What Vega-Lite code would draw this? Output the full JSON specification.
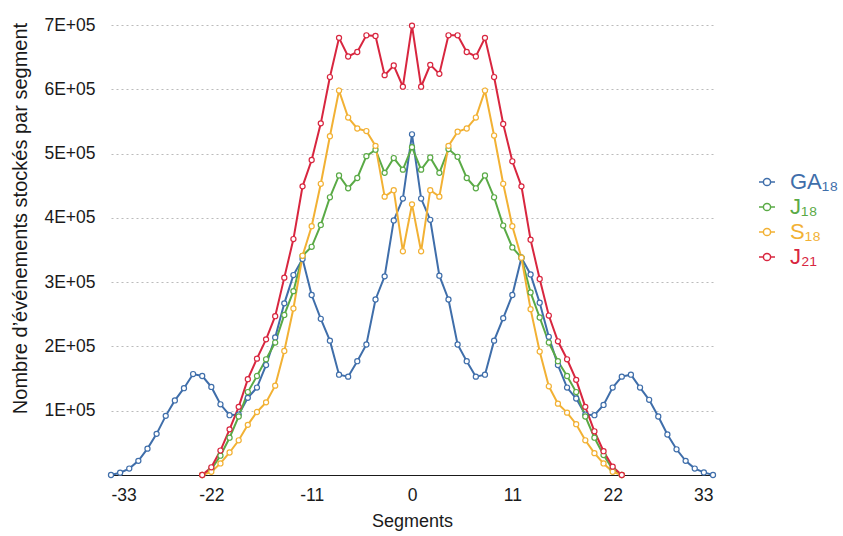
{
  "$schema": "https://vega.github.io/schema/vega-lite/v6.json",
  "width": 602,
  "height": 450,
  "autosize": "none",
  "padding": {"left": 111, "top": 25, "right": 130, "bottom": 61},
  "background": "white",
  "config": {
    "font": "Liberation Sans",
    "view": {"stroke": null}
  },
  "data": {
    "values": [
      {"s":"GA₁₈","x":-33,"y":0},{"s":"GA₁₈","x":-32,"y":3600},{"s":"GA₁₈","x":-31,"y":10000},{"s":"GA₁₈","x":-30,"y":22000},{"s":"GA₁₈","x":-29,"y":41000},{"s":"GA₁₈","x":-28,"y":64000},{"s":"GA₁₈","x":-27,"y":92000},{"s":"GA₁₈","x":-26,"y":116000},{"s":"GA₁₈","x":-25,"y":135000},{"s":"GA₁₈","x":-24,"y":157000},{"s":"GA₁₈","x":-23,"y":154000},{"s":"GA₁₈","x":-22,"y":137000},{"s":"GA₁₈","x":-21,"y":110000},{"s":"GA₁₈","x":-20,"y":93000},{"s":"GA₁₈","x":-19,"y":94000},{"s":"GA₁₈","x":-18,"y":120000},{"s":"GA₁₈","x":-17,"y":136000},{"s":"GA₁₈","x":-16,"y":171000},{"s":"GA₁₈","x":-15,"y":214000},{"s":"GA₁₈","x":-14,"y":267000},{"s":"GA₁₈","x":-13,"y":311000},{"s":"GA₁₈","x":-12,"y":336000},{"s":"GA₁₈","x":-11,"y":280000},{"s":"GA₁₈","x":-10,"y":243000},{"s":"GA₁₈","x":-9,"y":209000},{"s":"GA₁₈","x":-8,"y":156000},{"s":"GA₁₈","x":-7,"y":153000},{"s":"GA₁₈","x":-6,"y":177000},{"s":"GA₁₈","x":-5,"y":203000},{"s":"GA₁₈","x":-4,"y":273000},{"s":"GA₁₈","x":-3,"y":309000},{"s":"GA₁₈","x":-2,"y":396000},{"s":"GA₁₈","x":-1,"y":430000},{"s":"GA₁₈","x":0,"y":530000},{"s":"GA₁₈","x":1,"y":430000},{"s":"GA₁₈","x":2,"y":397000},{"s":"GA₁₈","x":3,"y":310000},{"s":"GA₁₈","x":4,"y":273000},{"s":"GA₁₈","x":5,"y":203000},{"s":"GA₁₈","x":6,"y":177000},{"s":"GA₁₈","x":7,"y":153000},{"s":"GA₁₈","x":8,"y":156000},{"s":"GA₁₈","x":9,"y":209000},{"s":"GA₁₈","x":10,"y":244000},{"s":"GA₁₈","x":11,"y":280000},{"s":"GA₁₈","x":12,"y":338000},{"s":"GA₁₈","x":13,"y":312000},{"s":"GA₁₈","x":14,"y":268000},{"s":"GA₁₈","x":15,"y":215000},{"s":"GA₁₈","x":16,"y":171000},{"s":"GA₁₈","x":17,"y":136000},{"s":"GA₁₈","x":18,"y":119000},{"s":"GA₁₈","x":19,"y":94000},{"s":"GA₁₈","x":20,"y":93000},{"s":"GA₁₈","x":21,"y":109000},{"s":"GA₁₈","x":22,"y":136000},{"s":"GA₁₈","x":23,"y":153000},{"s":"GA₁₈","x":24,"y":156000},{"s":"GA₁₈","x":25,"y":136000},{"s":"GA₁₈","x":26,"y":117000},{"s":"GA₁₈","x":27,"y":91000},{"s":"GA₁₈","x":28,"y":63000},{"s":"GA₁₈","x":29,"y":40000},{"s":"GA₁₈","x":30,"y":22000},{"s":"GA₁₈","x":31,"y":10000},{"s":"GA₁₈","x":32,"y":4000},{"s":"GA₁₈","x":33,"y":0},
      {"s":"J₁₈","x":-23,"y":0},{"s":"J₁₈","x":-22,"y":9000},{"s":"J₁₈","x":-21,"y":30000},{"s":"J₁₈","x":-20,"y":58000},{"s":"J₁₈","x":-19,"y":91000},{"s":"J₁₈","x":-18,"y":129000},{"s":"J₁₈","x":-17,"y":154000},{"s":"J₁₈","x":-16,"y":180000},{"s":"J₁₈","x":-15,"y":206000},{"s":"J₁₈","x":-14,"y":249000},{"s":"J₁₈","x":-13,"y":286000},{"s":"J₁₈","x":-12,"y":341000},{"s":"J₁₈","x":-11,"y":355000},{"s":"J₁₈","x":-10,"y":389000},{"s":"J₁₈","x":-9,"y":432000},{"s":"J₁₈","x":-8,"y":466000},{"s":"J₁₈","x":-7,"y":446000},{"s":"J₁₈","x":-6,"y":462000},{"s":"J₁₈","x":-5,"y":496000},{"s":"J₁₈","x":-4,"y":506000},{"s":"J₁₈","x":-3,"y":470000},{"s":"J₁₈","x":-2,"y":493000},{"s":"J₁₈","x":-1,"y":475000},{"s":"J₁₈","x":0,"y":510000},{"s":"J₁₈","x":1,"y":475000},{"s":"J₁₈","x":2,"y":494000},{"s":"J₁₈","x":3,"y":470000},{"s":"J₁₈","x":4,"y":507000},{"s":"J₁₈","x":5,"y":495000},{"s":"J₁₈","x":6,"y":462000},{"s":"J₁₈","x":7,"y":446000},{"s":"J₁₈","x":8,"y":466000},{"s":"J₁₈","x":9,"y":432000},{"s":"J₁₈","x":10,"y":388000},{"s":"J₁₈","x":11,"y":354000},{"s":"J₁₈","x":12,"y":338000},{"s":"J₁₈","x":13,"y":284000},{"s":"J₁₈","x":14,"y":245000},{"s":"J₁₈","x":15,"y":206000},{"s":"J₁₈","x":16,"y":177000},{"s":"J₁₈","x":17,"y":154000},{"s":"J₁₈","x":18,"y":129000},{"s":"J₁₈","x":19,"y":91000},{"s":"J₁₈","x":20,"y":58000},{"s":"J₁₈","x":21,"y":31000},{"s":"J₁₈","x":22,"y":9000},{"s":"J₁₈","x":23,"y":0},
      {"s":"S₁₈","x":-23,"y":0},{"s":"S₁₈","x":-22,"y":5000},{"s":"S₁₈","x":-21,"y":18000},{"s":"S₁₈","x":-20,"y":35000},{"s":"S₁₈","x":-19,"y":54000},{"s":"S₁₈","x":-18,"y":78000},{"s":"S₁₈","x":-17,"y":98000},{"s":"S₁₈","x":-16,"y":113000},{"s":"S₁₈","x":-15,"y":139000},{"s":"S₁₈","x":-14,"y":193000},{"s":"S₁₈","x":-13,"y":259000},{"s":"S₁₈","x":-12,"y":341000},{"s":"S₁₈","x":-11,"y":387000},{"s":"S₁₈","x":-10,"y":453000},{"s":"S₁₈","x":-9,"y":527000},{"s":"S₁₈","x":-8,"y":598000},{"s":"S₁₈","x":-7,"y":556000},{"s":"S₁₈","x":-6,"y":539000},{"s":"S₁₈","x":-5,"y":535000},{"s":"S₁₈","x":-4,"y":512000},{"s":"S₁₈","x":-3,"y":433000},{"s":"S₁₈","x":-2,"y":443000},{"s":"S₁₈","x":-1,"y":348000},{"s":"S₁₈","x":0,"y":421000},{"s":"S₁₈","x":1,"y":348000},{"s":"S₁₈","x":2,"y":443000},{"s":"S₁₈","x":3,"y":433000},{"s":"S₁₈","x":4,"y":512000},{"s":"S₁₈","x":5,"y":534000},{"s":"S₁₈","x":6,"y":539000},{"s":"S₁₈","x":7,"y":556000},{"s":"S₁₈","x":8,"y":598000},{"s":"S₁₈","x":9,"y":528000},{"s":"S₁₈","x":10,"y":453000},{"s":"S₁₈","x":11,"y":387000},{"s":"S₁₈","x":12,"y":338000},{"s":"S₁₈","x":13,"y":258000},{"s":"S₁₈","x":14,"y":192000},{"s":"S₁₈","x":15,"y":138000},{"s":"S₁₈","x":16,"y":111000},{"s":"S₁₈","x":17,"y":97000},{"s":"S₁₈","x":18,"y":79000},{"s":"S₁₈","x":19,"y":54000},{"s":"S₁₈","x":20,"y":34000},{"s":"S₁₈","x":21,"y":18000},{"s":"S₁₈","x":22,"y":5000},{"s":"S₁₈","x":23,"y":0},
      {"s":"J₂₁","x":-23,"y":0},{"s":"J₂₁","x":-22,"y":12000},{"s":"J₂₁","x":-21,"y":38000},{"s":"J₂₁","x":-20,"y":71000},{"s":"J₂₁","x":-19,"y":106000},{"s":"J₂₁","x":-18,"y":149000},{"s":"J₂₁","x":-17,"y":181000},{"s":"J₂₁","x":-16,"y":211000},{"s":"J₂₁","x":-15,"y":247000},{"s":"J₂₁","x":-14,"y":307000},{"s":"J₂₁","x":-13,"y":367000},{"s":"J₂₁","x":-12,"y":449000},{"s":"J₂₁","x":-11,"y":490000},{"s":"J₂₁","x":-10,"y":547000},{"s":"J₂₁","x":-9,"y":619000},{"s":"J₂₁","x":-8,"y":680000},{"s":"J₂₁","x":-7,"y":651000},{"s":"J₂₁","x":-6,"y":658000},{"s":"J₂₁","x":-5,"y":684000},{"s":"J₂₁","x":-4,"y":683000},{"s":"J₂₁","x":-3,"y":622000},{"s":"J₂₁","x":-2,"y":637000},{"s":"J₂₁","x":-1,"y":604000},{"s":"J₂₁","x":0,"y":699000},{"s":"J₂₁","x":1,"y":604000},{"s":"J₂₁","x":2,"y":638000},{"s":"J₂₁","x":3,"y":624000},{"s":"J₂₁","x":4,"y":684000},{"s":"J₂₁","x":5,"y":684000},{"s":"J₂₁","x":6,"y":658000},{"s":"J₂₁","x":7,"y":651000},{"s":"J₂₁","x":8,"y":680000},{"s":"J₂₁","x":9,"y":619000},{"s":"J₂₁","x":10,"y":546000},{"s":"J₂₁","x":11,"y":488000},{"s":"J₂₁","x":12,"y":449000},{"s":"J₂₁","x":13,"y":366000},{"s":"J₂₁","x":14,"y":305000},{"s":"J₂₁","x":15,"y":248000},{"s":"J₂₁","x":16,"y":208000},{"s":"J₂₁","x":17,"y":180000},{"s":"J₂₁","x":18,"y":148000},{"s":"J₂₁","x":19,"y":106000},{"s":"J₂₁","x":20,"y":68000},{"s":"J₂₁","x":21,"y":37000},{"s":"J₂₁","x":22,"y":13000},{"s":"J₂₁","x":23,"y":0}
    ]
  },
  "encoding": {
    "x": {
      "field": "x", "type": "quantitative",
      "scale": {"domain": [-33, 33], "nice": false, "zero": false},
      "axis": {
        "values": [-33, -22, -11, 0, 11, 22, 33],
        "labelExpr": "'' + datum.value",
        "title": "Segments",
        "titleFontSize": 18, "titleFontWeight": "normal", "titleColor": "#1a1a1a", "titlePadding": 9,
        "labelFontSize": 17.5, "labelColor": "#1a1a1a", "labelPadding": 11,
        "ticks": false, "tickSize": 0, "grid": false,
        "domainColor": "#1a1a1a", "domainWidth": 1.2
      }
    },
    "y": {
      "field": "y", "type": "quantitative",
      "scale": {"domain": [0, 700000], "nice": false},
      "axis": {
        "values": [0, 100000, 200000, 300000, 400000, 500000, 600000, 700000],
        "labelExpr": "datum.value == 0 ? '' : format(datum.value / 100000, 'd') + 'E+05'",
        "title": "Nombre d’événements stockés par segment",
        "titleFontSize": 20, "titleFontWeight": "normal", "titleColor": "#1a1a1a", "titlePadding": 13,
        "titleY": 193,
        "labelFontSize": 17.5, "labelColor": "#1a1a1a", "labelPadding": 16,
        "ticks": false, "tickSize": 0, "domain": false,
        "grid": true, "gridColor": "#bbbbbb", "gridDash": [2, 3], "gridWidth": 1
      }
    },
    "color": {
      "field": "s", "type": "nominal",
      "scale": {
        "domain": ["GA₁₈", "J₁₈", "S₁₈", "J₂₁"],
        "range": ["#3f6eaa", "#5aaa46", "#f2b134", "#d8263f"]
      },
      "legend": {
        "title": null,
        "orient": "none",
        "legendX": 645,
        "legendY": 146,
        "padding": 0,
        "labelFontSize": 22,
        "labelOffset": 12,
        "rowPadding": 3,
        "symbolSize": 256,
        "symbolType": "M-1,0L-0.45,0M0.45,0L1,0M-0.45,0A0.45,0.45 0 1,0 0.45,0A0.45,0.45 0 1,0 -0.45,0",
        "symbolStrokeWidth": 1.5,
        "symbolFillColor": "white",
        "encode": {
          "labels": {"update": {"fill": {"signal": "scale('color', datum.value)"}}},
          "symbols": {"update": {"fill": {"value": "white"}, "fillOpacity": {"value": 1}}}
        }
      }
    }
  },
  "layer": [
    {"mark": {"type": "line", "strokeWidth": 2}},
    {"mark": {"type": "point", "shape": "circle", "filled": false, "fill": "white", "fillOpacity": 1, "size": 26, "strokeWidth": 1.2, "opacity": 1}}
  ]
}
